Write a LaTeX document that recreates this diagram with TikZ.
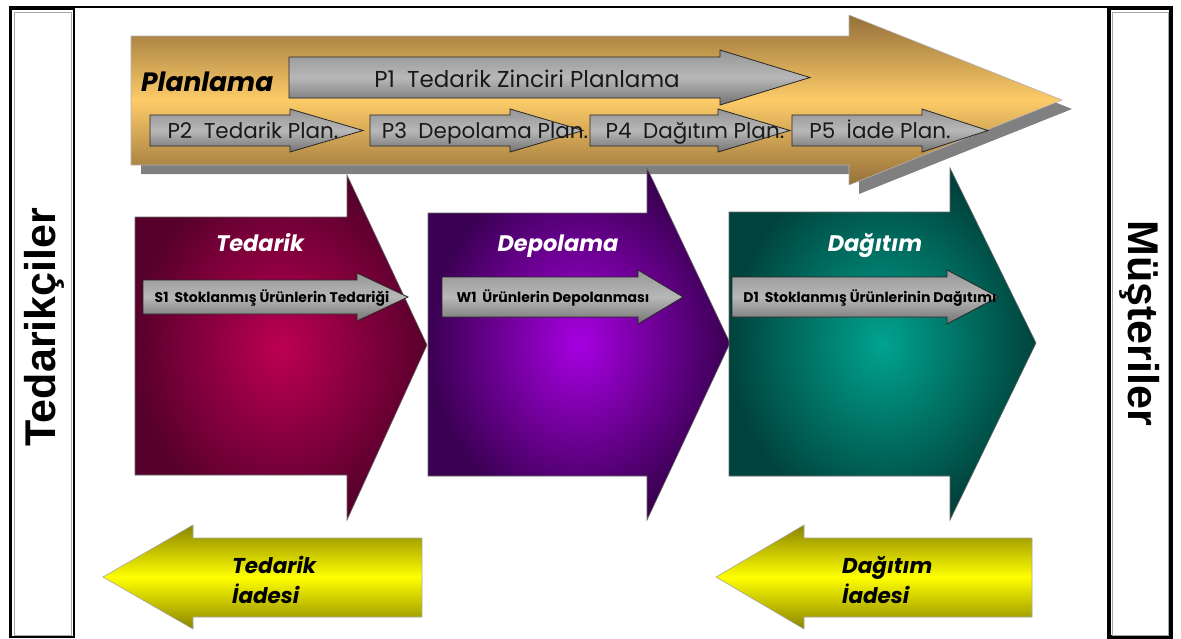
\documentclass[tikz,border=0pt]{standalone}
\usepackage{fontspec}
\newfontfamily\geo{Poppins}
\newfontfamily\side{Liberation Sans}

% colours of the fills
\definecolor{goldedge}{HTML}{94703A}
\definecolor{goldmid}{HTML}{FDCB68}
\definecolor{greyedge}{HTML}{727272}
\definecolor{greytop}{HTML}{959595}
\definecolor{greymid}{HTML}{B8B8B8}
\definecolor{yeledge}{HTML}{8A8400}
\definecolor{yelmid}{HTML}{FFFF00}
\definecolor{maroonin}{HTML}{BC0052}
\definecolor{maroonout}{HTML}{58002C}
\definecolor{purplein}{HTML}{A600E0}
\definecolor{purpleout}{HTML}{3A0052}
\definecolor{tealin}{HTML}{00A38F}
\definecolor{tealout}{HTML}{00433C}
\definecolor{shadowgrey}{HTML}{808080}

\tikzset{
  frameline/.style={draw=black, line width=2.6pt},
  innerline/.style={draw=gray!70, line width=1pt},
  goldarrow/.style={draw=gray!60, line width=0.6pt, top color=goldedge, bottom color=goldedge, middle color=goldmid},
  shadowarrow/.style={fill=shadowgrey, draw=none},
  greyarrow/.style={draw=black!85, line width=0.8pt, top color=greytop, bottom color=greyedge, middle color=greymid},
  chevron/.style={draw=black!60, line width=0.6pt},
  yelarrow/.style={draw=gray!70, line width=0.6pt, top color=yeledge, bottom color=yeledge, middle color=yelmid},
  plabel/.style={inner sep=0pt, anchor=base, font=\geo\fontsize{21.5}{24}\selectfont, text=black!90},
  slabel/.style={inner sep=0pt, anchor=base, font=\geo\bfseries\fontsize{14}{16}\selectfont, text=black},
  phase/.style={inner sep=0pt, anchor=base, font=\geo\bfseries\itshape\fontsize{22.5}{26}\selectfont, text=white},
  retlabel/.style={inner sep=0pt, anchor=base west, font=\geo\bfseries\itshape\fontsize{21.5}{24}\selectfont, text=black},
  sidelabel/.style={inner sep=0pt, font=\side\bfseries\fontsize{43}{48}\selectfont, text=black}
}

\begin{document}
\begin{tikzpicture}[x=1pt, y=-1pt]
\useasboundingbox (0,0) rectangle (1181,638);
\fill[white] (0,0) rectangle (1181,638);

% outer frame: top rule and the two side columns
\draw[frameline, line width=2.2pt] (9,7) -- (1173,7);
\draw[frameline] (10.5,8.5) rectangle (74,637);
\draw[innerline] (14,12) rectangle (71.5,635);
\draw[frameline, line width=3.2pt] (1109,8.5) rectangle (1171,637);
\draw[innerline] (1112.5,12) rectangle (1168,635);

\node[sidelabel, rotate=90] (supp) at (44,327) {Tedarikçiler};
\node[sidelabel, rotate=-90] (cust) at (1140,323) {Müşteriler};

% planning band with its drop shadow
\fill[shadowarrow] (141,45) -- (859,45) -- (859,24) -- (1072,109) -- (859,194) -- (859,174) -- (141,174) -- cycle;
\path[goldarrow] (131,36) -- (849,36) -- (849,15) -- (1062,100) -- (849,185) -- (849,165) -- (131,165) -- cycle;
\node[inner sep=0pt, anchor=base west, font=\geo\bfseries\itshape\fontsize{26.5}{30}\selectfont] (plan) at (141,91) {Planlama};

% planning processes
\path[greyarrow] (289,57) -- (720,57) -- (720,50) -- (810,77.5) -- (720,105) -- (720,98) -- (289,98) -- cycle;
\node[plabel, font=\geo\fontsize{23}{26}\selectfont] (p1) at (527,87) {P1\ \ Tedarik Zinciri Planlama};

\path[greyarrow] (150,115) -- (290,115) -- (290,109) -- (363,130.5) -- (290,152) -- (290,146) -- (150,146) -- cycle;
\path[greyarrow] (370,115) -- (510,115) -- (510,109) -- (583,130.5) -- (510,152) -- (510,146) -- (370,146) -- cycle;
\path[greyarrow] (590,115) -- (718,115) -- (718,109) -- (790,130.5) -- (718,152) -- (718,146) -- (590,146) -- cycle;
\path[greyarrow] (792,115) -- (922,115) -- (922,109) -- (988,130.5) -- (922,152) -- (922,146) -- (792,146) -- cycle;
\node[plabel] (p2) at (253,138) {P2\ \ Tedarik Plan.};
\node[plabel] (p3) at (485,138) {P3\ \ Depolama Plan.};
\node[plabel] (p4) at (695,138) {P4\ \ Dağıtım Plan.};
\node[plabel] (p5) at (880,138) {P5\ \ İade Plan.};

% execution phases
\path[chevron, inner color=maroonin, outer color=maroonout]
  (135,217) -- (347,217) -- (347,175) -- (427,345) -- (347,520) -- (347,475) -- (135,475) -- cycle;
\path[chevron, inner color=purplein, outer color=purpleout]
  (428,213) -- (647,213) -- (647,168) -- (730,343) -- (647,520) -- (647,476) -- (428,476) -- cycle;
\path[chevron, inner color=tealin, outer color=tealout]
  (729,212) -- (950,212) -- (950,168) -- (1036,343) -- (950,520) -- (950,476) -- (729,476) -- cycle;

\node[phase] (src) at (260,251) {Tedarik};
\node[phase] (str) at (558,251) {Depolama};
\node[phase] (dst) at (875,251) {Dağıtım};

\path[greyarrow] (143,280) -- (357,280) -- (357,273) -- (408,297) -- (357,321) -- (357,314) -- (143,314) -- cycle;
\path[greyarrow] (442,277) -- (638,277) -- (638,270) -- (683,297) -- (638,324) -- (638,317) -- (442,317) -- cycle;
\path[greyarrow] (732,277) -- (947,277) -- (947,270) -- (998,297) -- (947,324) -- (947,317) -- (732,317) -- cycle;
\node[slabel] (s1) at (272,302) {S1\ \ Stoklanmış Ürünlerin Tedariği};
\node[slabel] (w1) at (553,302) {W1\ \ Ürünlerin Depolanması};
\node[slabel] (d1) at (870,302) {D1\ \ Stoklanmış Ürünlerinin Dağıtımı};

% return flows
\path[yelarrow] (103,577) -- (193,525) -- (193,538) -- (422,538) -- (422,617) -- (193,617) -- (193,629) -- cycle;
\path[yelarrow] (716,577) -- (804,525) -- (804,538) -- (1032,538) -- (1032,617) -- (804,617) -- (804,629) -- cycle;
\node[retlabel] (sr1) at (232,573) {Tedarik};
\node[retlabel] (sr2) at (232,603) {İadesi};
\node[retlabel] (dr1) at (842,573) {Dağıtım};
\node[retlabel] (dr2) at (842,603) {İadesi};
\end{tikzpicture}
\end{document}
